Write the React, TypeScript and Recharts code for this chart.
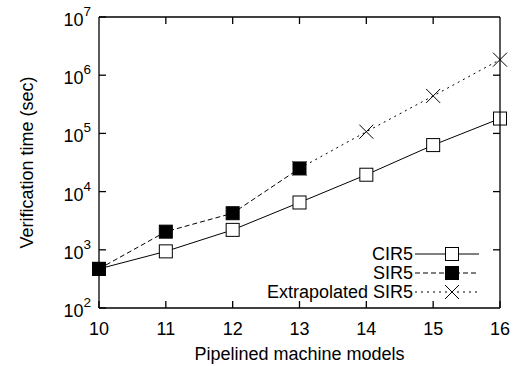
import { LineChart, Line, XAxis, YAxis } from 'recharts'

// x positions (pipelined machine models)
const models = [10, 11, 12, 13, 14, 15, 16]
// verification times in seconds
const cir5 = [470, 940, 2200, 6500, 19500, 63000, 180000]
const sir5 = [470, 2050, 4250, 25000, null, null, null]
const extrapolatedSir5 = [null, null, null, 25000, 107000, 440000, 1850000]

const xTicks = [10, 11, 12, 13, 14, 15, 16]
const yTicks = [1e2, 1e3, 1e4, 1e5, 1e6, 1e7]

const data = models.map((m, i) => ({
  model: m,
  cir5: cir5[i],
  sir5: sir5[i],
  ext: extrapolatedSir5[i],
}))

const FONT = '"Liberation Sans", Arial, Helvetica, sans-serif'
const TICK_LEN = 7

// plot box, follows from the chart margins and axis sizes below
const MARGIN = { top: 17, right: 13, bottom: 28, left: 39 }
const Y_AXIS_W = 60
const X_AXIS_H = 30
const CHART_W = 513
const CHART_H = 366
const PLOT_L = MARGIN.left + Y_AXIS_W
const PLOT_R = CHART_W - MARGIN.right
const PLOT_T = MARGIN.top
const PLOT_B = CHART_H - MARGIN.bottom - X_AXIS_H

const BottomTick = ({ x, y, payload }: any) => (
  <g>
    <line x1={x} x2={x} y1={y} y2={y - TICK_LEN} stroke="#000" strokeWidth={1.3} />
    <text x={x} y={y + 27} textAnchor="middle" fontSize={18} fontFamily={FONT} fill="#000">
      {payload.value}
    </text>
  </g>
)

const LeftTick = ({ x, y, payload }: any) => {
  const exp = Math.round(Math.log10(payload.value))
  return (
    <g>
      <line x1={x} x2={x + TICK_LEN} y1={y} y2={y} stroke="#000" strokeWidth={1.3} />
      <text x={x - 8} y={y + 9} textAnchor="end" fontSize={18} fontFamily={FONT} fill="#000">
        10
        <tspan fontSize={13.5} dy={-10}>{exp}</tspan>
      </text>
    </g>
  )
}

const OpenSquare = ({ cx, cy }: any) =>
  cx == null || cy == null ? null : (
    <rect x={cx - 6.5} y={cy - 6.5} width={13} height={13} fill="#fff" stroke="#000" strokeWidth={1} />
  )

const FilledSquare = ({ cx, cy }: any) =>
  cx == null || cy == null ? null : (
    <rect x={cx - 6.5} y={cy - 6.5} width={13} height={13} fill="#000" stroke="#000" strokeWidth={1} />
  )

const Cross = ({ cx, cy }: any) =>
  cx == null || cy == null ? null : (
    <path
      d={`M${cx - 7},${cy - 7}L${cx + 7},${cy + 7}M${cx - 7},${cy + 7}L${cx + 7},${cy - 7}`}
      stroke="#000"
      strokeWidth={1}
      fill="none"
    />
  )

const legendItems = [
  { label: 'CIR5', dash: undefined, marker: 'open' },
  { label: 'SIR5', dash: '5 3', marker: 'filled' },
  { label: 'Extrapolated SIR5', dash: '2 4', marker: 'cross' },
]

const GnuplotLegend = () => (
  <svg width={230} height={60} style={{ position: 'absolute', left: 250, top: 245, overflow: 'visible' }}>
    {legendItems.map((item, i) => {
      const y = 9 + i * 19
      return (
        <g key={item.label}>
          <text x={163} y={y + 6} textAnchor="end" fontSize={18} fontFamily={FONT} fill="#000">
            {item.label}
          </text>
          <line x1={165} x2={229} y1={y} y2={y} stroke="#000" strokeWidth={1} strokeDasharray={item.dash} />
          {item.marker === 'open' && <OpenSquare cx={202} cy={y} />}
          {item.marker === 'filled' && <FilledSquare cx={202} cy={y} />}
          {item.marker === 'cross' && <Cross cx={202} cy={y} />}
        </g>
      )
    })}
  </svg>
)

// gnuplot border on top and right with mirrored inward ticks
const Border = () => {
  const xPos = (v: number) => PLOT_L + ((v - xTicks[0]) / (xTicks[xTicks.length - 1] - xTicks[0])) * (PLOT_R - PLOT_L)
  const lo = Math.log10(yTicks[0])
  const hi = Math.log10(yTicks[yTicks.length - 1])
  const yPos = (v: number) => PLOT_B - ((Math.log10(v) - lo) / (hi - lo)) * (PLOT_B - PLOT_T)
  return (
    <svg
      width={CHART_W}
      height={CHART_H}
      style={{ position: 'absolute', left: 0, top: 0, pointerEvents: 'none' }}
    >
      <line x1={PLOT_L} x2={PLOT_R} y1={PLOT_T} y2={PLOT_T} stroke="#000" strokeWidth={1.3} />
      <line x1={PLOT_R} x2={PLOT_R} y1={PLOT_T} y2={PLOT_B} stroke="#000" strokeWidth={1.3} />
      {xTicks.slice(1, -1).map((t) => (
        <line key={'tx' + t} x1={xPos(t)} x2={xPos(t)} y1={PLOT_T} y2={PLOT_T + TICK_LEN} stroke="#000" strokeWidth={1.3} />
      ))}
      {yTicks.slice(1, -1).map((t) => (
        <line key={'ty' + t} x1={PLOT_R} x2={PLOT_R - TICK_LEN} y1={yPos(t)} y2={yPos(t)} stroke="#000" strokeWidth={1.3} />
      ))}
    </svg>
  )
}

export default function App() {
  return (
    <div style={{ position: 'absolute', left: 0, top: 0, width: CHART_W, height: CHART_H, background: '#fff' }}>
      <LineChart width={CHART_W} height={CHART_H} data={data} margin={MARGIN}>
        <XAxis
          dataKey="model"
          type="number"
          domain={[10, 16]}
          ticks={xTicks}
          height={X_AXIS_H}
          tickSize={0}
          tickMargin={0}
          tickLine={false}
          axisLine={{ stroke: '#000', strokeWidth: 1.3 }}
          tick={<BottomTick />}
          interval={0}
          label={{ value: 'Pipelined machine models', position: 'insideBottom', offset: -22, fontSize: 18, fontFamily: FONT, fill: '#000' }}
        />
        <YAxis
          scale="log"
          domain={[1e2, 1e7]}
          ticks={yTicks}
          allowDataOverflow
          width={Y_AXIS_W}
          tickSize={0}
          tickMargin={0}
          tickLine={false}
          axisLine={{ stroke: '#000', strokeWidth: 1.3 }}
          tick={<LeftTick />}
          interval={0}
          label={{ value: 'Verification time (sec)', angle: -90, position: 'insideLeft', offset: -12, fontSize: 18, fontFamily: FONT, fill: '#000', style: { textAnchor: 'middle' } }}
        />
        <Line
          dataKey="cir5"
          stroke="#000"
          strokeWidth={1}
          dot={<OpenSquare />}
          activeDot={false}
          isAnimationActive={false}
        />
        <Line
          dataKey="ext"
          stroke="#000"
          strokeWidth={1}
          strokeDasharray="2 4"
          dot={<Cross />}
          activeDot={false}
          isAnimationActive={false}
        />
        <Line
          dataKey="sir5"
          stroke="#000"
          strokeWidth={1}
          strokeDasharray="5 3"
          dot={<FilledSquare />}
          activeDot={false}
          isAnimationActive={false}
        />
      </LineChart>
      <Border />
      <GnuplotLegend />
    </div>
  )
}
